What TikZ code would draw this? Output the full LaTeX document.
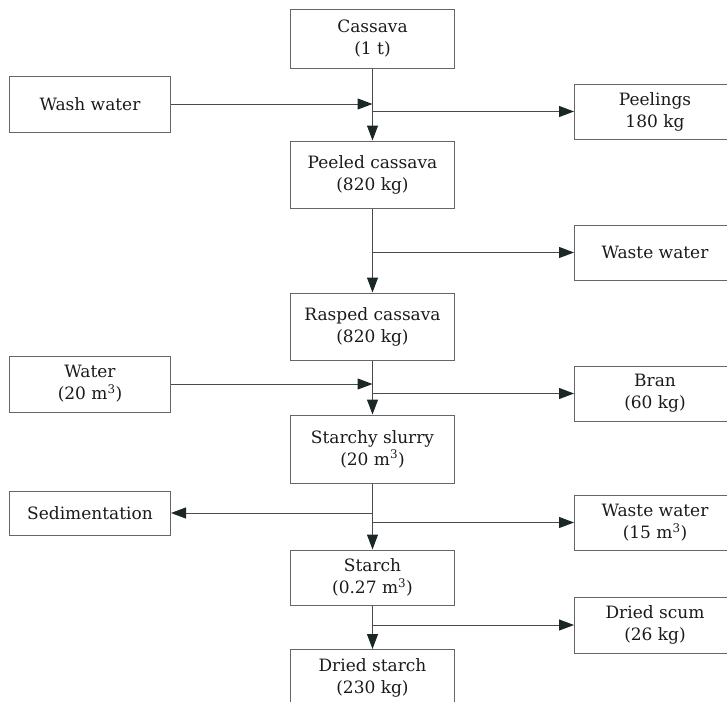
\documentclass[tikz,border=0pt]{standalone}
\usepackage{fontspec}
\setmainfont{DejaVu Serif}
\usetikzlibrary{arrows.meta}
\definecolor{linegray}{HTML}{4A4A4A}
\definecolor{boxgray}{HTML}{666666}
\definecolor{tipdark}{HTML}{1B2626}
\definecolor{textdark}{HTML}{1A1A1A}
\begin{document}
\begin{tikzpicture}[
  block/.style={rectangle, draw=boxgray, line width=1pt, minimum width=164pt, minimum height=56pt, align=center, text=textdark},
  side/.style={block, minimum width=161pt},
  >={Triangle[length=15pt,width=11pt,color=tipdark]},
  node distance=282.5pt,
  font=\fontsize{17}{22}\selectfont
]
\useasboundingbox (0,0) rectangle (727pt,-701pt);
\clip (0,0) rectangle (727pt,-701pt);
\node[block, minimum height=58pt] at (372.5pt,-39pt) (cassava) {Cassava\\(1 t)};
\node[block, below of=cassava, node distance=135.5pt, minimum height=67pt] (peeled) {Peeled cassava\\(820 kg)};
\node[block, below of=peeled, node distance=152pt, minimum height=67pt] (rasped) {Rasped cassava\\(820 kg)};
\node[block, below of=rasped, node distance=122.5pt, minimum height=68pt] (slurry) {Starchy slurry\\(20 m\textsuperscript{3})};
\node[block, below of=slurry, node distance=128.5pt, minimum height=55pt] (starch) {Starch\\(0.27 m\textsuperscript{3})};
\node[block, below of=starch, node distance=100pt, minimum height=56pt] (dried) {Dried starch\\(230 kg)};
\node[side, left of=cassava, yshift=-65pt] (wash) {Wash water};
\node[side, right of=cassava, yshift=-72.5pt, minimum height=55pt] (peelings) {Peelings\\180 kg};
\node[side, right of=peeled, yshift=-78pt, minimum height=55pt] (waste) {Waste water};
\node[side, left of=rasped, yshift=-57.5pt] (water) {Water\\(20 m\textsuperscript{3})};
\node[side, right of=rasped, yshift=-67pt, minimum height=55pt] (bran) {Bran\\(60 kg)};
\node[side, left of=slurry, yshift=-64pt, minimum height=44pt] (sedim) {Sedimentation};
\node[side, right of=slurry, yshift=-73.5pt, minimum height=55pt] (wastetwo) {Waste water\\(15 m\textsuperscript{3})};
\node[side, right of=starch, yshift=-47.5pt] (scum) {Dried scum\\(26 kg)};

\begin{scope}[draw=linegray, line width=1pt]
\draw[->] (cassava) -- (peeled);
\draw[->] (wash) -- (wash -| cassava);
\draw[->] (peelings -| cassava) -- (peelings);
\draw[->] (peeled) -- (rasped);
\draw[->] (waste -| peeled) -- (waste);
\draw[->] (rasped) -- (slurry);
\draw[->] (water) -- (water -| rasped);
\draw[->] (bran -| rasped) -- (bran);
\draw[->] (slurry) -- (starch);
\draw[->] (sedim -| slurry) -- (sedim);
\draw[->] (wastetwo -| slurry) -- (wastetwo);
\draw[->] (starch) -- (dried);
\draw[->] (scum -| starch) -- (scum);
\end{scope}
\end{tikzpicture}
\end{document}
